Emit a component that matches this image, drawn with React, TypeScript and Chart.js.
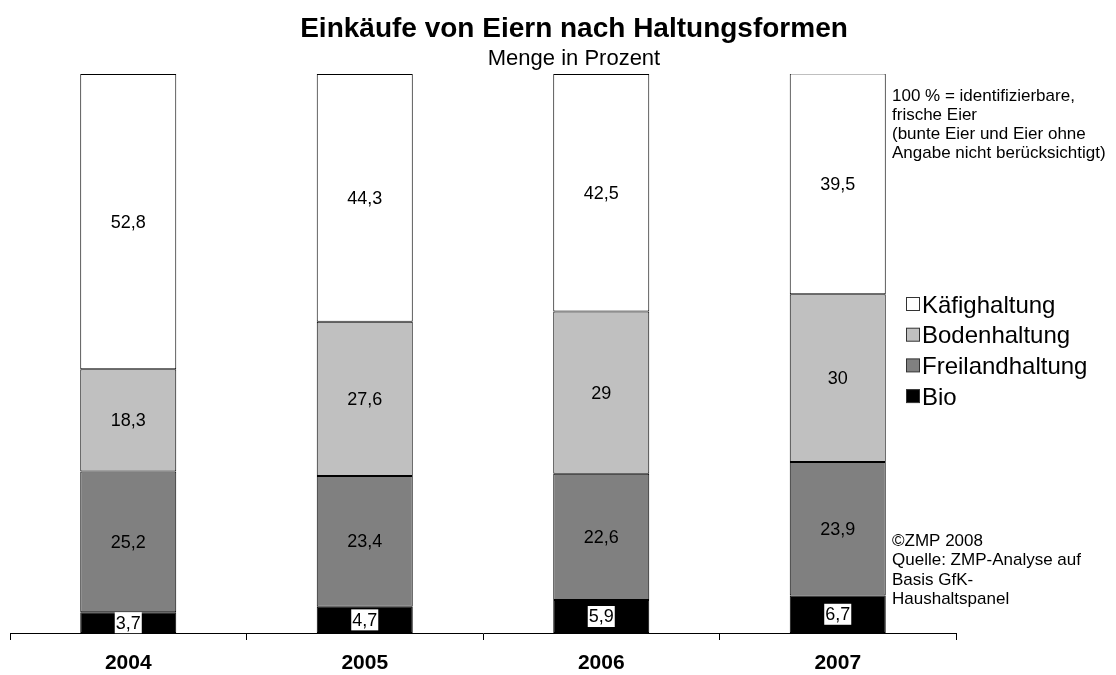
import React, { useEffect, useRef } from "react";
import { Chart, registerables } from "chart.js";

Chart.register(...registerables);

const years = ["2004", "2005", "2006", "2007"];
const bio = [3.7, 4.7, 5.9, 6.7];
const freiland = [25.2, 23.4, 22.6, 23.9];
const boden = [18.3, 27.6, 29, 30];
const kaefig = [52.8, 44.3, 42.5, 39.5];

const seriesNames = ["Bio", "Freilandhaltung", "Bodenhaltung", "Käfighaltung"];
const seriesColors = ["#000000", "#808080", "#c0c0c0", "#ffffff"];

const titleText = "Einkäufe von Eiern nach Haltungsformen";
const subtitleText = "Menge in Prozent";
const noteTop = [
  "100 % = identifizierbare,",
  "frische Eier",
  "(bunte Eier und Eier ohne",
  "Angabe nicht berücksichtigt)",
];
const noteBottom = [
  "©ZMP 2008",
  "Quelle: ZMP-Analyse auf",
  "Basis GfK-",
  "Haushaltspanel",
];

const FONT = '"Liberation Sans", Arial, Helvetica, sans-serif';

const fmt = (v: number) => String(v).replace(".", ",");

const overlayPlugin = {
  id: "overlay",
  afterDatasetsDraw(chart: any) {
    const ctx = chart.ctx;
    ctx.save();
    ctx.font = `18px ${FONT}`;
    ctx.textAlign = "center";
    ctx.textBaseline = "middle";
    chart.data.datasets.forEach((ds: any, di: number) => {
      const meta = chart.getDatasetMeta(di);
      meta.data.forEach((el: any, i: number) => {
        const p = el.getProps(["x", "y", "base"], true);
        const cy = (p.y + p.base) / 2;
        const txt = fmt(ds.data[i]);
        if (di === 0) {
          const w = ctx.measureText(txt).width;
          ctx.fillStyle = "#ffffff";
          ctx.fillRect(p.x - w / 2 - 1, cy - 10.5, w + 2, 21);
        }
        ctx.fillStyle = "#000000";
        ctx.fillText(txt, p.x, cy + 1);
      });
    });
    ctx.restore();
  },
  afterDraw(chart: any) {
    const ctx = chart.ctx;
    ctx.save();
    ctx.fillStyle = "#000000";
    ctx.textBaseline = "alphabetic";
    // title
    ctx.textAlign = "center";
    ctx.font = `bold 28px ${FONT}`;
    ctx.fillText(titleText, 574, 37);
    ctx.font = `22px ${FONT}`;
    ctx.fillText(subtitleText, 574, 65);
    // notes
    ctx.textAlign = "left";
    ctx.font = `17px ${FONT}`;
    noteTop.forEach((t, i) => ctx.fillText(t, 892, 101 + i * 19));
    noteBottom.forEach((t, i) => ctx.fillText(t, 892, 546 + i * 19.3));
    // legend (reverse order)
    ctx.font = `24px ${FONT}`;
    const n = chart.data.datasets.length;
    for (let k = 0; k < n; k++) {
      const di = n - 1 - k;
      const ds = chart.data.datasets[di];
      const cy = 304 + k * 30.7;
      ctx.fillStyle = ds.backgroundColor;
      ctx.fillRect(906.5, cy - 6.5, 13, 13);
      ctx.strokeStyle = "#333333";
      ctx.lineWidth = 1;
      ctx.strokeRect(906.5, cy - 6.5, 13, 13);
      ctx.fillStyle = "#000000";
      ctx.fillText(ds.label, 922, cy + 8.5);
    }
    ctx.restore();
  },
};

export default function App() {
  const ref = useRef<HTMLCanvasElement | null>(null);

  useEffect(() => {
    if (!ref.current) return;
    const values = [bio, freiland, boden, kaefig];
    const chart = new Chart(ref.current, {
      type: "bar",
      data: {
        labels: years,
        datasets: values.map((d, i) => ({
          label: seriesNames[i],
          data: d,
          backgroundColor: seriesColors[i],
          borderColor: "#000000",
          borderWidth: 1,
          borderSkipped: false,
          categoryPercentage: 1,
          barPercentage: 0.406,
        })),
      },
      options: {
        responsive: false,
        animation: false,
        layout: { padding: { left: 10, right: 160, top: 74, bottom: 0 } },
        plugins: {
          legend: { display: false },
          title: { display: false },
          tooltip: { enabled: false },
        },
        scales: {
          x: {
            stacked: true,
            afterFit: (scale: any) => {
              scale.height = 42;
            },
            grid: {
              offset: true,
              drawOnChartArea: false,
              drawTicks: true,
              tickLength: 7,
              color: "#000000",
            },
            border: { display: true, color: "#000000", width: 1 },
            ticks: {
              color: "#000000",
              padding: 11,
              font: { family: FONT, size: 21, weight: "bold" },
            },
          },
          y: {
            stacked: true,
            display: false,
            min: 0,
            max: 100,
          },
        },
      },
      plugins: [overlayPlugin],
    } as any);
    return () => chart.destroy();
  }, []);

  return (
    <div style={{ position: "fixed", left: 0, top: 0, width: 1116, height: 675, background: "#ffffff" }}>
      <canvas ref={ref} width={1116} height={675} style={{ width: 1116, height: 675, display: "block" }} />
    </div>
  );
}
